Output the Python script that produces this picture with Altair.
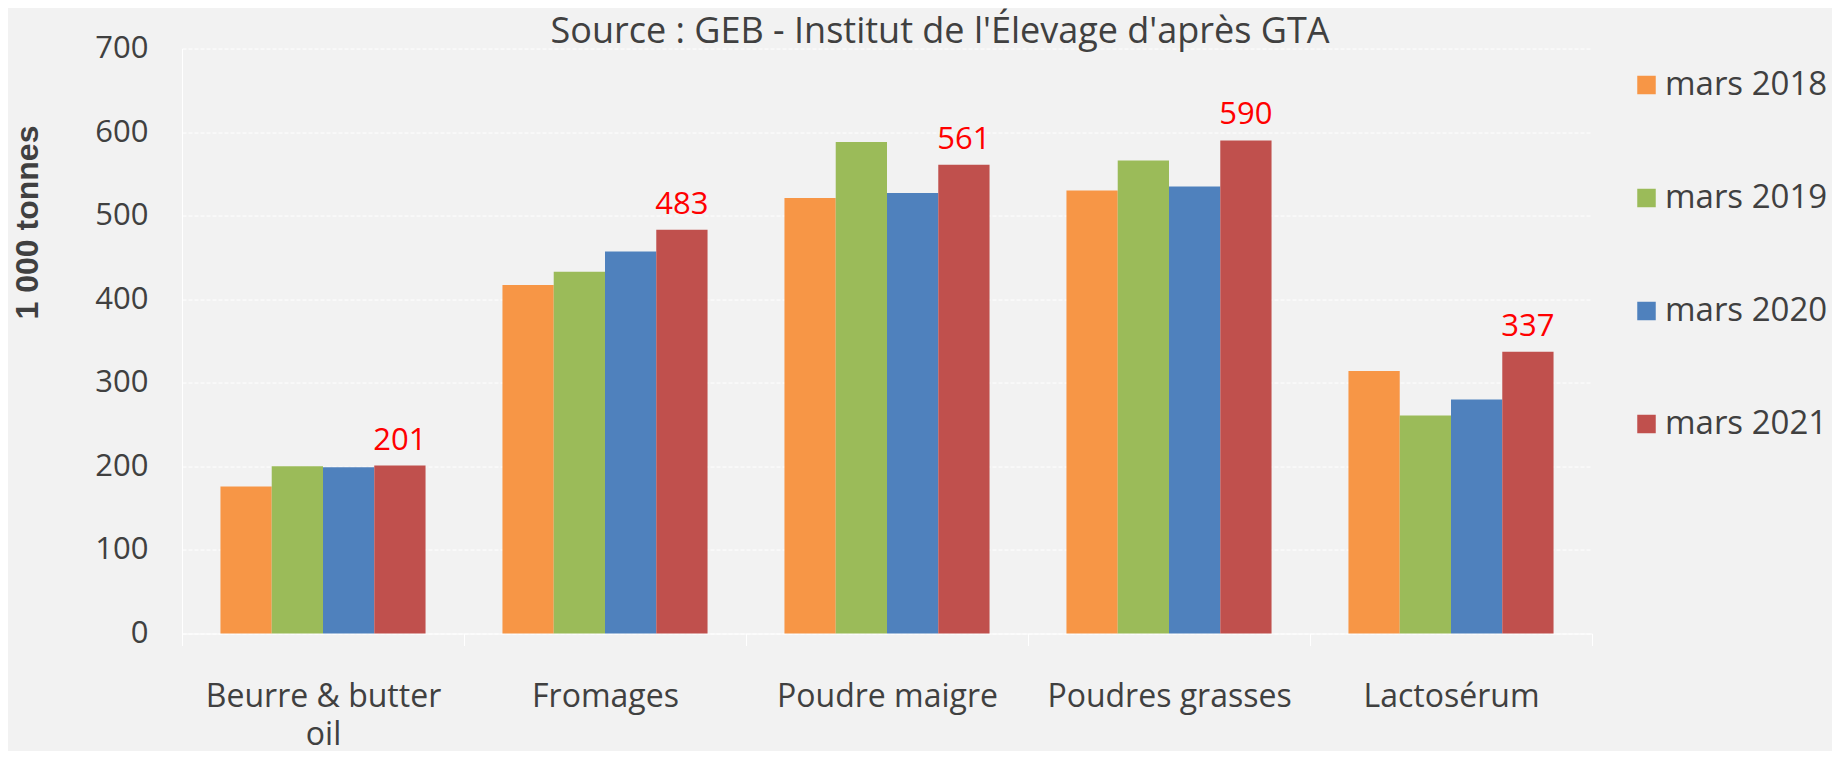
import altair as alt
import pandas as pd

categories = ["Beurre & butter oil", "Fromages", "Poudre maigre", "Poudres grasses", "Lactosérum"]
years = ["mars 2018", "mars 2019", "mars 2020", "mars 2021"]
v2018 = [176, 417, 521, 530, 314]
v2019 = [200, 433, 588, 566, 261]
v2020 = [199, 457, 527, 535, 280]
v2021 = [201, 483, 561, 590, 337]
colors = ["#F79646", "#9BBB59", "#4F81BD", "#C0504D"]
y_ticks = [0, 100, 200, 300, 400, 500, 600, 700]
title_text = "Source : GEB - Institut de l'Élevage d'après GTA"

rows = []
for yr, vals in zip(years, [v2018, v2019, v2020, v2021]):
    for c, v in zip(categories, vals):
        rows.append({"cat": c, "year": yr, "value": v})
df = pd.DataFrame(rows)

FONT = "Open Sans"
TXT = "#404040"

x = alt.X(
    "cat:N", sort=categories, title=None,
    scale=alt.Scale(paddingInner=0, paddingOuter=0),
    axis=alt.Axis(
        labelAngle=0, labelFont=FONT, labelFontSize=32, labelColor=TXT,
        labelPadding=36, labelLineHeight=38, labelLimit=400, labelBaseline="top",
        labelExpr="datum.label == 'Beurre & butter oil' ? ['Beurre & butter', 'oil'] : datum.label",
        tickBand="extent", tickSize=12, tickColor="white", tickWidth=1,
        domainColor="white", domainWidth=1, grid=False,
    ),
)
xo = alt.XOffset("year:N", sort=years, scale=alt.Scale(paddingInner=0, paddingOuter=0.75))
y = alt.Y(
    "value:Q", scale=alt.Scale(domain=[0, 700]),
    axis=alt.Axis(
        values=y_ticks, title="1 000 tonnes",
        titleFont="Liberation Sans", titleFontSize=32, titleFontWeight="bold",
        titleColor=TXT, titleAngle=270, titleX=-155, titleY=173.5,
        titleAlign="center", titleBaseline="middle",
        labelFont=FONT, labelFontSize=31, labelColor=TXT, labelPadding=34,
        tickSize=0, domainColor="white", domainWidth=1,
        gridColor="white", gridDash=[4, 2], gridWidth=1,
    ),
)
color = alt.Color(
    "year:N", sort=years,
    scale=alt.Scale(domain=years, range=colors),
    legend=alt.Legend(
        orient="none", legendX=1448, legendY=20, title=None,
        symbolType="square", symbolSize=342, symbolStrokeWidth=0,
        labelFont=FONT, labelFontSize=33, labelColor=TXT, labelOffset=2,
        labelLimit=400, rowPadding=79, padding=0,
    ),
)

bars = alt.Chart(df).mark_bar().encode(x=x, xOffset=xo, y=y, color=color)

labels = alt.Chart(df).transform_filter(alt.datum.year == "mars 2021").mark_text(
    font=FONT, fontSize=31, color="#FF0000", dy=-16, baseline="alphabetic", align="center"
).encode(x=x, xOffset=xo, y=y, text="value:Q")

title = alt.Chart(pd.DataFrame({"t": [title_text]})).mark_text(
    font=FONT, fontSize=36, color=TXT, align="center", baseline="alphabetic"
).encode(x=alt.value(758), y=alt.value(-6), text="t:N")

chart = alt.layer(bars, labels, title).properties(
    width=1410, height=585,
    autosize=alt.AutoSizeParams(type="none"),
    padding={"left": 174, "top": 40.5, "right": 240, "bottom": 117},
    background="#F2F2F2",
).configure_view(strokeWidth=0)

chart.save("out.html", embed_options={"renderer": "svg", "actions": False})
